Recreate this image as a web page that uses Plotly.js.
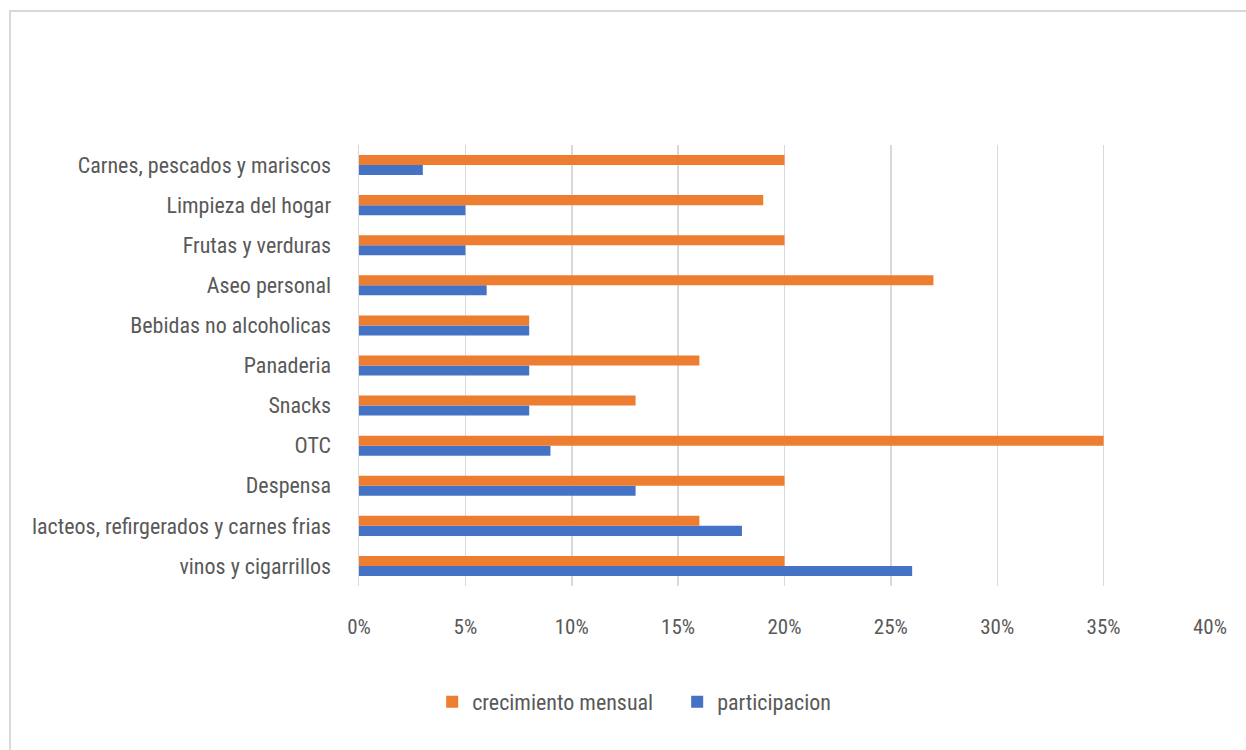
<!DOCTYPE html>
<html>
<head>
<meta charset="utf-8">
<script src="https://cdn.plot.ly/plotly-3.0.1.min.js"></script>
<style>
html,body{margin:0;padding:0;background:#fff;}
#chart{width:1246px;height:750px;}
</style>
</head>
<body>
<div id="chart"></div>
<script>
const categories = [
  "vinos y cigarrillos",
  "lacteos, refirgerados y carnes frias",
  "Despensa",
  "OTC",
  "Snacks",
  "Panaderia",
  "Bebidas no alcoholicas",
  "Aseo personal",
  "Frutas y verduras",
  "Limpieza del hogar",
  "Carnes, pescados y mariscos"
];
const crecimientoMensual = [0.20, 0.16, 0.20, 0.35, 0.13, 0.16, 0.08, 0.27, 0.20, 0.19, 0.20];
const participacion      = [0.26, 0.18, 0.13, 0.09, 0.08, 0.08, 0.08, 0.06, 0.05, 0.05, 0.03];
const xTickValues = [0, 0.05, 0.10, 0.15, 0.20, 0.25, 0.30, 0.35, 0.40];

const FONT = '"Liberation Sans Narrow", "Arial Narrow", "Roboto Condensed", "Liberation Sans", sans-serif';

const traces = [
  {
    type: 'bar', orientation: 'h', name: 'participacion',
    y: categories, x: participacion,
    marker: {color: '#4472C4'}, hoverinfo: 'x+y'
  },
  {
    type: 'bar', orientation: 'h', name: 'crecimiento mensual',
    y: categories, x: crecimientoMensual,
    marker: {color: '#ED7D31'}, hoverinfo: 'x+y'
  }
];

const layout = {
  width: 1246, height: 750,
  margin: {l: 359, r: 36, t: 145, b: 164},
  paper_bgcolor: '#ffffff', plot_bgcolor: '#ffffff',
  barmode: 'group', bargap: 0.5, bargroupgap: 0,
  font: {family: FONT, color: '#595959', size: 21},
  xaxis: {
    range: [0, 0.40], tickvals: xTickValues, tickformat: '.0%',
    showgrid: true, gridcolor: '#d9d9d9', gridwidth: 1.5,
    zeroline: false, showline: false, ticks: '',
    ticklabelstandoff: 26,
    tickfont: {family: FONT, size: 21, color: '#595959'},
    fixedrange: true
  },
  yaxis: {
    type: 'category', categoryorder: 'array', categoryarray: categories,
    showgrid: false, zeroline: false,
    showline: true, linecolor: '#d9d9d9', linewidth: 1.5,
    ticks: '', ticklabelstandoff: 22,
    tickfont: {family: FONT, size: 22, color: '#595959'},
    fixedrange: true
  },
  showlegend: true,
  legend: {
    orientation: 'h', traceorder: 'reversed',
    x: 0.086, xanchor: 'left', y: -0.263, yanchor: 'middle',
    font: {family: FONT, size: 22, color: '#595959'},
    itemwidth: 30, entrywidth: 200, entrywidthmode: 'pixels'
  },
  shapes: [{
    type: 'rect', xref: 'paper', yref: 'paper',
    x0: (10 - 359) / 851, x1: (1260 - 359) / 851,
    y0: (586 - 770) / 441, y1: (586 - 11) / 441,
    line: {color: '#d9d9d9', width: 2}, fillcolor: 'rgba(0,0,0,0)', layer: 'below'
  }]
};

Plotly.newPlot('chart', traces, layout, {displayModeBar: false, staticPlot: true});
</script>
</body>
</html>
